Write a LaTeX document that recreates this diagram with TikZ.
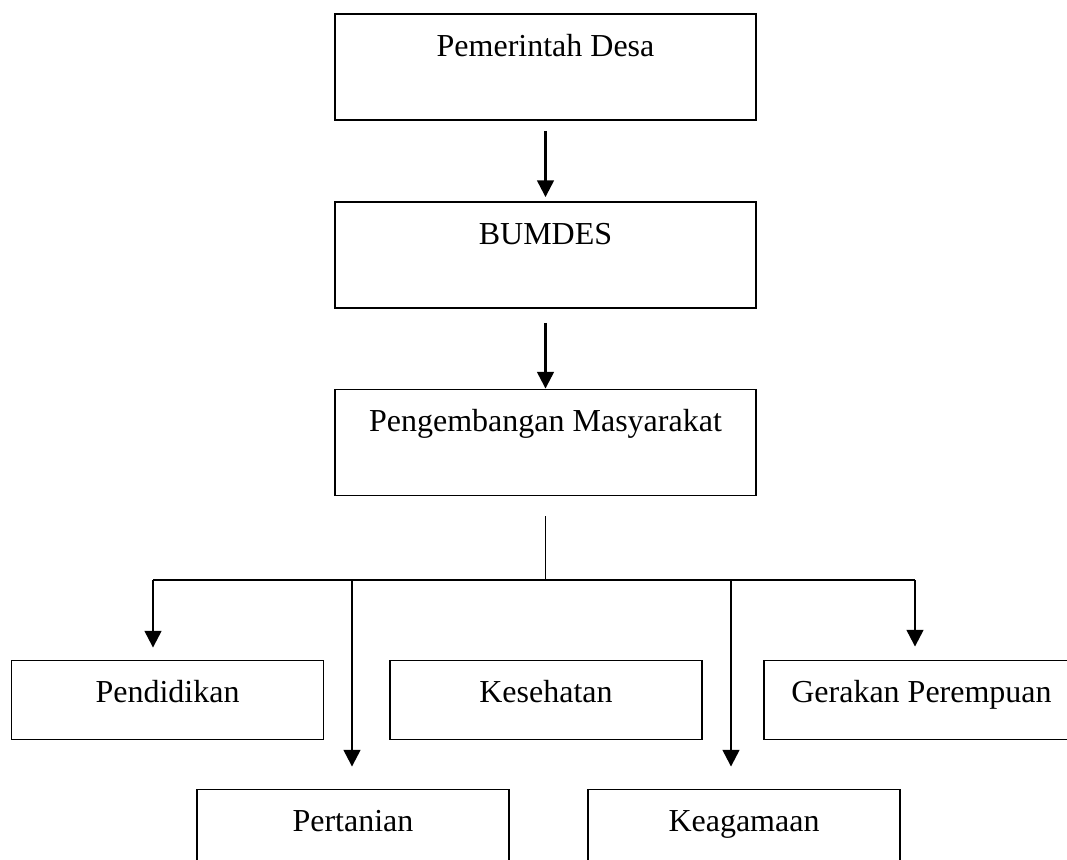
\documentclass[tikz,border=0pt]{standalone}
\usepackage{fontspec}
\setmainfont{Liberation Serif}
\usetikzlibrary{arrows.meta}

\begin{document}
\begin{tikzpicture}[x=0.75pt, y=-0.75pt,
    kotak/.style={draw, line width=1.4pt, inner sep=0pt, text height=31.5pt, text depth=#1, font=\fontsize{24}{28}\selectfont},
    atas/.style={kotak=48pt, minimum width=315.75pt},
    bawah/.style={kotak=27.75pt, minimum width=234pt},
    panah/.style={line width=1.7pt, -{Triangle[length=12.5pt, width=12.5pt]}},
    garis/.style={line width=1.4pt}
    ]
        \clip (0,0) rectangle (1067,860);

        \node[atas] (A) at (545.5,67) {Pemerintah Desa};
        \node[atas] (B) at (545.5,255) {BUMDES};
        \node[atas] (C) at (545.5,442.5) {Pengembangan Masyarakat};

        \node[bawah] (D) at (167.5,700) {Pendidikan};
        \node[bawah] (E) at (546,700) {Kesehatan};
        \node[bawah, minimum width=236.25pt] (F) at (921.5,700) {Gerakan Perempuan};

        \node[kotak=28.5pt, minimum width=234pt] (G) at (353,829.5) {Pertanian};
        \node[kotak=28.5pt, minimum width=234pt] (H) at (744,829.5) {Keagamaan};

        \coordinate (kiri) at (153,580);
        \coordinate (tani) at (352,580);
        \coordinate (agama) at (731,580);
        \coordinate (kanan) at (915,580);

        \draw[panah, shorten <=7.5pt, shorten >=3pt] (A.south) -- (B.north);
        \draw[panah, shorten <=10.5pt] (B.south) -- (C.north);
        \draw[line width=1pt, shorten <=15pt] (C.south) -- (C.south |- kiri);
        \draw[garis] (kiri) -- (kanan);

        \draw[panah, shorten >=9pt] (kiri) -- (kiri |- D.north);
        \draw[panah, shorten >=16.5pt] (tani) -- (tani |- G.north);
        \draw[panah, shorten >=16.5pt] (agama) -- (agama |- H.north);
        \draw[panah, shorten >=9.75pt] (kanan) -- (kanan |- F.north);

\end{tikzpicture}
\end{document}
